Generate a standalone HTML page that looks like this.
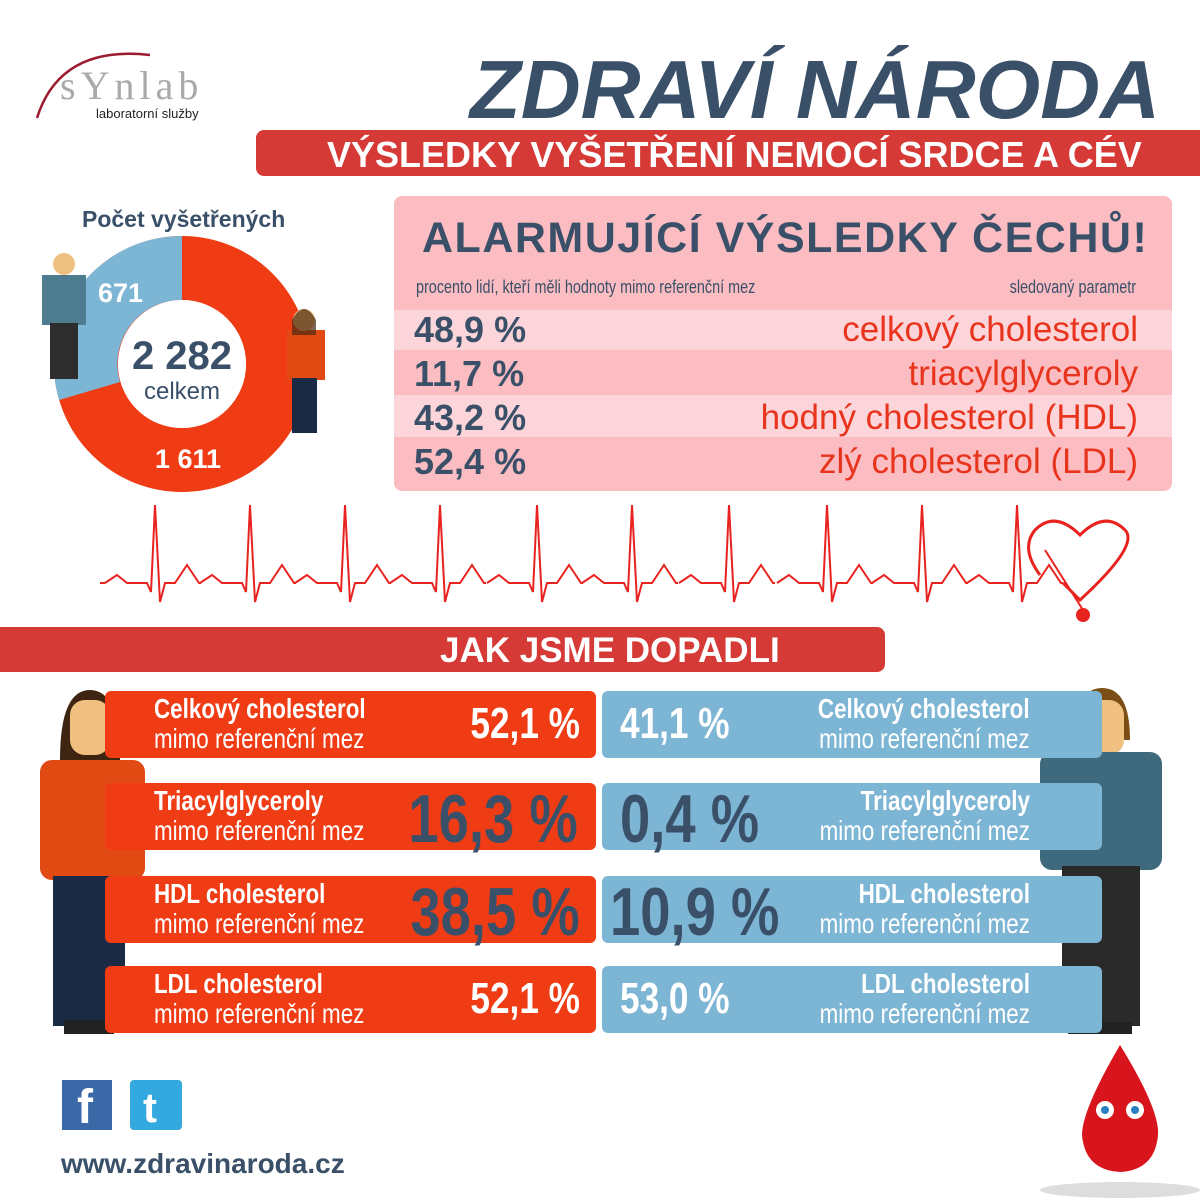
<!DOCTYPE html>
<html><head><meta charset="utf-8"><style>
body{margin:0;width:1200px;height:1200px;background:#fff;position:relative;overflow:hidden;font-family:"Liberation Sans",sans-serif}
.a{position:absolute}
.n{transform:scaleX(.8);transform-origin:left top}
.nr{transform:scaleX(.8);transform-origin:right top}
.bar{position:absolute;height:67px;border-radius:6px}
.r{background:#f03c14;left:105px;width:491px}
.b{background:#7db5d4;left:602px;width:500px}
.lab{position:absolute;color:#fff;font-size:28px;line-height:30px;white-space:nowrap}
.lab b{font-weight:bold}
.val{position:absolute;font-weight:bold;white-space:nowrap}
</style></head><body>
<svg class="a" style="left:0;top:0" width="1200" height="1200">
<path d="M37 118 Q60 45 150 55" stroke="#9b1b30" stroke-width="2.5" fill="none"/>
<circle cx="182" cy="364" r="96" fill="none" stroke="#f03c14" stroke-width="64"/>
<path d="M182 236 A128 128 0 0 0 59 400 L120 382 A64 64 0 0 1 182 300 Z" fill="#7db5d4"/>
<circle cx="182" cy="364" r="64" fill="#fff"/>
<defs><path id="bt" d="M-50 583 L-38 575 L-28 583 L-8 583 L-4 592 L0 505 L5 602 L10 583 L20 583 L32 565 L44 583 L46 583" fill="none" stroke="#e8231f" stroke-width="2"/></defs>
<path d="M100 583 L105 583" stroke="#e8231f" stroke-width="2"/>
<use href="#bt" x="155"/><use href="#bt" x="250"/><use href="#bt" x="345"/><use href="#bt" x="440"/><use href="#bt" x="537"/><use href="#bt" x="632"/><use href="#bt" x="729"/><use href="#bt" x="827"/><use href="#bt" x="922"/><use href="#bt" x="1017"/>
<path d="M1063 583 L1080 600 Q1140 545 1125 530 Q1105 510 1080 535 Q1055 510 1035 530 Q1020 548 1040 575" fill="none" stroke="#e8231f" stroke-width="3"/>
<path d="M1045 550 L1083 610" stroke="#e8231f" stroke-width="2"/>
<circle cx="1083" cy="615" r="7" fill="#e8231f"/>
<rect x="287" y="330" width="38" height="50" fill="#e14a13"/><rect x="292" y="378" width="25" height="55" fill="#1b2a44"/><circle cx="304" cy="320" r="11" fill="#f0c080"/><path d="M292 320 Q304 298 316 320 L316 335 L292 335Z" fill="#4a2a10" opacity=".7"/>
<rect x="42" y="275" width="44" height="50" fill="#4f7d90"/><rect x="50" y="323" width="28" height="56" fill="#2d2d2d"/><circle cx="64" cy="264" r="11" fill="#f0c080"/>
<path d="M60 760 Q60 690 90 690 Q120 690 120 760 Z" fill="#3e2511"/><rect x="70" y="700" width="40" height="55" rx="15" fill="#f0c080"/>
<rect x="40" y="760" width="105" height="120" rx="12" fill="#e14a13"/><rect x="53" y="876" width="72" height="150" fill="#1b2a44"/><rect x="64" y="1020" width="50" height="14" fill="#222"/>
<path d="M1075 740 Q1075 688 1102 688 Q1130 688 1130 740Z" fill="#7a4e14"/><rect x="1082" y="700" width="42" height="55" rx="15" fill="#f0c080"/>
<rect x="1040" y="752" width="122" height="118" rx="12" fill="#3f6a7d"/><rect x="1062" y="866" width="78" height="160" fill="#2a2a2a"/><rect x="1068" y="1022" width="64" height="12" fill="#222"/>
<rect x="62" y="1080" width="50" height="50" fill="#3b69a8"/><rect x="130" y="1080" width="52" height="50" rx="4" fill="#33a9e0"/>
<ellipse cx="1120" cy="1190" rx="80" ry="8" fill="#ddd"/>
<path d="M1120 1045 Q1160 1110 1158 1135 Q1155 1170 1120 1172 Q1085 1170 1082 1135 Q1082 1110 1120 1045Z" fill="#d8141c"/>
<circle cx="1105" cy="1110" r="9" fill="#fff"/><circle cx="1135" cy="1110" r="9" fill="#fff"/><circle cx="1105" cy="1110" r="4" fill="#2a7fc0"/><circle cx="1135" cy="1110" r="4" fill="#2a7fc0"/>
</svg>
<div class="a" style="left:60px;top:62px;font-family:'Liberation Serif',serif;font-size:40px;color:#aaa;letter-spacing:5px">sYnlab</div>
<div class="a" style="left:96px;top:106px;font-size:13px;color:#222">laboratorní služby</div>
<div class="a" style="left:470px;top:42px;font-size:83px;font-weight:bold;font-style:italic;color:#3a5068;white-space:nowrap">ZDRAVÍ NÁRODA</div>
<div class="a" style="left:256px;top:130px;width:944px;height:46px;background:#d63a36;border-radius:8px 0 0 8px"></div>
<div class="a" style="left:327px;top:134px;font-size:36px;font-weight:bold;color:#fff;white-space:nowrap">VÝSLEDKY VYŠETŘENÍ NEMOCÍ SRDCE A CÉV</div>
<div class="a" style="left:82px;top:206px;font-size:23px;font-weight:bold;color:#3a5068">Počet vyšetřených</div>
<div class="a" style="left:98px;top:278px;font-size:27px;font-weight:bold;color:#fff">671</div>
<div class="a" style="left:155px;top:444px;font-size:27px;font-weight:bold;color:#fff">1 611</div>
<div class="a" style="left:112px;top:334px;width:140px;text-align:center;font-size:40px;font-weight:bold;color:#3a5068;line-height:44px">2 282</div>
<div class="a" style="left:112px;top:378px;width:140px;text-align:center;font-size:24px;color:#3a5068">celkem</div>
<div class="a" style="left:394px;top:196px;width:778px;height:295px;background:#fbbcc2;border-radius:8px;overflow:hidden">
<div class="a" style="left:0;top:114px;width:778px;height:40px;background:#fcd5da"></div>
<div class="a" style="left:0;top:199px;width:778px;height:42px;background:#fcd5da"></div>
<div class="a" style="left:28px;top:18px;font-size:43px;font-weight:bold;color:#3a5068;letter-spacing:1.5px;white-space:nowrap">ALARMUJÍCÍ VÝSLEDKY ČECHŮ!</div>
<div class="a n" style="left:22px;top:81px;font-size:18px;color:#3a5068;white-space:nowrap">procento lidí, kteří měli hodnoty mimo referenční mez</div>
<div class="a nr" style="right:36px;top:81px;font-size:18px;color:#3a5068">sledovaný parametr</div>
<div class="a" style="left:20px;top:112px;font-size:36px;font-weight:bold;color:#3a5068;line-height:44px">48,9 %<br>11,7 %<br>43,2 %<br>52,4 %</div>
<div class="a" style="right:34px;top:112px;font-size:35px;color:#e8341c;line-height:44px;text-align:right;white-space:nowrap">celkový cholesterol<br>triacylglyceroly<br>hodný cholesterol (HDL)<br>zlý cholesterol (LDL)</div>
</div>
<div class="a" style="left:0;top:627px;width:885px;height:45px;background:#d63a36;border-radius:0 8px 8px 0"></div>
<div class="a" style="left:440px;top:631px;font-size:35px;font-weight:bold;color:#fff">JAK JSME DOPADLI</div>

<div class="bar r" style="top:691px"></div><div class="bar r" style="top:783px"></div><div class="bar r" style="top:876px"></div><div class="bar r" style="top:966px"></div>
<div class="bar b" style="top:691px"></div><div class="bar b" style="top:783px"></div><div class="bar b" style="top:876px"></div><div class="bar b" style="top:966px"></div>

<div class="lab n" style="left:154px;top:694px"><b>Celkový cholesterol</b><br>mimo referenční mez</div>
<div class="lab n" style="left:154px;top:786px"><b>Triacylglyceroly</b><br>mimo referenční mez</div>
<div class="lab n" style="left:154px;top:879px"><b>HDL cholesterol</b><br>mimo referenční mez</div>
<div class="lab n" style="left:154px;top:969px"><b>LDL cholesterol</b><br>mimo referenční mez</div>
<div class="lab nr" style="right:170px;top:694px;text-align:right"><b>Celkový cholesterol</b><br>mimo referenční mez</div>
<div class="lab nr" style="right:170px;top:786px;text-align:right"><b>Triacylglyceroly</b><br>mimo referenční mez</div>
<div class="lab nr" style="right:170px;top:879px;text-align:right"><b>HDL cholesterol</b><br>mimo referenční mez</div>
<div class="lab nr" style="right:170px;top:969px;text-align:right"><b>LDL cholesterol</b><br>mimo referenční mez</div>

<div class="val nr" style="right:620px;top:699px;font-size:44px;color:#fff">52,1 %</div>
<div class="val nr" style="right:622px;top:780px;font-size:68px;color:#3a5068">16,3 %</div>
<div class="val nr" style="right:620px;top:873px;font-size:68px;color:#3a5068">38,5 %</div>
<div class="val nr" style="right:620px;top:974px;font-size:44px;color:#fff">52,1 %</div>
<div class="val n" style="left:620px;top:699px;font-size:44px;color:#fff">41,1 %</div>
<div class="val n" style="left:620px;top:780px;font-size:68px;color:#3a5068">0,4 %</div>
<div class="val n" style="left:610px;top:873px;font-size:68px;color:#3a5068">10,9 %</div>
<div class="val n" style="left:620px;top:974px;font-size:44px;color:#fff">53,0 %</div>

<div class="a" style="left:77px;top:1083px;font-size:48px;font-weight:bold;color:#fff;line-height:50px">f</div>
<div class="a" style="left:143px;top:1083px;font-size:42px;font-weight:bold;color:#fff;line-height:50px">t</div>
<div class="a" style="left:61px;top:1148px;font-size:28px;font-weight:bold;color:#3a5068">www.zdravinaroda.cz</div>
</body></html>
